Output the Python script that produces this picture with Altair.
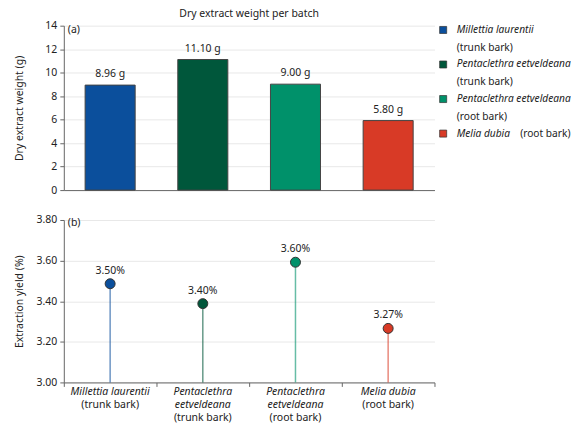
import altair as alt
import pandas as pd

species = [
    "Millettia laurentii (trunk bark)",
    "Pentaclethra eetveldeana (trunk bark)",
    "Pentaclethra eetveldeana (root bark)",
    "Melia dubia (root bark)",
]
colors = ["#0b4f9c", "#00573b", "#00916a", "#d83a26"]
weights = [8.94, 11.12, 9.02, 5.92]
weight_labels = ["8.96 g", "11.10 g", "9.00 g", "5.80 g"]
yields = [3.486, 3.388, 3.592, 3.266]
yield_labels = ["3.50%", "3.40%", "3.60%", "3.27%"]
axis_italic = ["Millettia laurentii", "Pentaclethra\neetveldeana", "Pentaclethra\neetveldeana", "Melia dubia"]
parts = ["(trunk bark)", "(trunk bark)", "(root bark)", "(root bark)"]
legend_italic = ["Millettia laurentii", "Pentaclethra eetveldeana", "Pentaclethra eetveldeana", "Melia dubia"]
legend_wrap = [True, True, True, False]
panel_tags = ["(a)", "(b)"]

FONT = "Noto Sans"
FS = 10.5
LFS = 10.2
TXT = "#222222"
W, H1, H2 = 372, 165, 163
LH = 13.3
Y0 = H2 + 10.5

df = pd.DataFrame({
    "species": species,
    "color": colors,
    "weight": weights,
    "wlabel": weight_labels,
    "yield": yields,
    "ylabel": yield_labels,
    "ax_it": axis_italic,
    "ax_lines": [a.count("\n") + 1 for a in axis_italic],
    "part": parts,
    "lg_it": legend_italic,
    "lg_wrap": legend_wrap,
    "base": [3.0] * 4,
})
tag_a_df = pd.DataFrame({"tag": [panel_tags[0]]})
tag_b_df = pd.DataFrame({"tag": [panel_tags[1]]})

color_scale = alt.Scale(domain=species, range=colors)
x_top = alt.X("species:N", sort=species, title=None,
              scale=alt.Scale(paddingInner=0.46, paddingOuter=0.23),
              axis=alt.Axis(labels=False, ticks=False, domainColor="#666666", grid=False,
                            minExtent=0, maxExtent=0))
y_top = alt.Y("weight:Q", title="Dry extract weight (g)",
              scale=alt.Scale(domain=[0, 14]),
              axis=alt.Axis(values=list(range(0, 15, 2)), labelOverlap=False, tickSize=4,
                            tickColor="#666666", domainColor="#666666", gridColor="#e8e8e8",
                            labelPadding=3, titleX=-44, titleY=H1 / 2, titleAlign="center",
                            titleBaseline="middle", titleFontWeight="normal"))

bars = alt.Chart(df).mark_bar(stroke="#444444", strokeWidth=1).encode(
    x=x_top, y=y_top,
    color=alt.Color("species:N", scale=color_scale, legend=None),
)
bar_text = alt.Chart(df).mark_text(baseline="bottom", dy=-6, font=FONT, fontSize=FS, color=TXT).encode(
    x=x_top, y=y_top, text="wlabel:N",
)
tag_a = alt.Chart(tag_a_df).mark_text(align="left", baseline="middle", font=FONT,
                                      fontSize=FS, color=TXT).encode(
    x=alt.value(4), y=alt.value(4), text="tag:N")
plot_a = alt.layer(bars, bar_text, tag_a)

# legend drawn from the same table
lg_y = alt.Y("species:N", sort=species, axis=None,
             scale=alt.Scale(range=[4.3, 108.3], padding=0))
lg_sq = alt.Chart(df).mark_square(size=50, stroke="#333333", strokeWidth=0.7, opacity=1).encode(
    x=alt.value(380.7), y=lg_y,
    color=alt.Color("species:N", scale=color_scale, legend=None),
)
lg_it = alt.Chart(df).mark_text(align="left", baseline="middle", fontStyle="italic", font=FONT,
                                fontSize=LFS, color=TXT).encode(
    x=alt.value(394.3), y=lg_y, text="lg_it:N")
lg_reg = alt.Chart(df).transform_filter("datum.lg_wrap").mark_text(
    align="left", baseline="middle", dy=18, font=FONT, fontSize=LFS, color=TXT).encode(
    x=alt.value(394.3), y=lg_y, text="part:N")
lg_tail = alt.Chart(df).transform_filter("!datum.lg_wrap").mark_text(
    align="left", baseline="middle", dx=63.7, font=FONT, fontSize=LFS, color=TXT).encode(
    x=alt.value(394.3), y=lg_y, text="part:N")
legend_layer = alt.layer(lg_sq, lg_it, lg_reg, lg_tail)

top = alt.layer(plot_a, legend_layer).resolve_scale(y="independent").properties(
    width=W, height=H1,
    title=alt.TitleParams("Dry extract weight per batch", fontSize=FS, font=FONT,
                          fontWeight="normal", color=TXT, offset=1))

x_bot = alt.X("species:N", sort=species, title=None,
              scale=alt.Scale(paddingInner=0, paddingOuter=0),
              axis=alt.Axis(labels=False, tickBand="extent", tickSize=4, tickColor="#666666",
                            domainColor="#666666", grid=False))
y_bot = alt.Y("yield:Q", title="Extraction yield (%)",
              scale=alt.Scale(domain=[3.0, 3.8]),
              axis=alt.Axis(values=[3.0, 3.2, 3.4, 3.6, 3.8], format=".2f", labelOverlap=False,
                            tickSize=4, tickColor="#666666", domainColor="#666666",
                            gridColor="#e8e8e8", labelPadding=3, titleX=-44, titleY=H2 / 2,
                            titleAlign="center", titleBaseline="middle", titleFontWeight="normal"))
stems = alt.Chart(df).mark_rule(strokeWidth=1.5, opacity=0.6).encode(
    x=x_bot, y=y_bot, y2="base:Q",
    color=alt.Color("species:N", scale=color_scale, legend=None),
)
dots = alt.Chart(df).mark_circle(size=100, stroke="#333333", strokeWidth=1, opacity=1).encode(
    x=x_bot, y=y_bot,
    color=alt.Color("species:N", scale=color_scale, legend=None),
)
dot_text = alt.Chart(df).mark_text(baseline="bottom", dy=-8, font=FONT, fontSize=FS, color=TXT).encode(
    x=x_bot, y=y_bot, text="ylabel:N")
ax_it = alt.Chart(df).mark_text(baseline="top", dy=-6, fontStyle="italic", font=FONT, fontSize=FS,
                                color=TXT, lineBreak="\n", lineHeight=LH).encode(
    x=x_bot, y=alt.value(Y0), text="ax_it:N")
ax_reg1 = alt.Chart(df).transform_filter("datum.ax_lines == 1").mark_text(
    baseline="top", dy=-6, font=FONT, fontSize=FS, color=TXT).encode(
    x=x_bot, y=alt.value(Y0 + LH), text="part:N")
ax_reg2 = alt.Chart(df).transform_filter("datum.ax_lines == 2").mark_text(
    baseline="top", dy=-6, font=FONT, fontSize=FS, color=TXT).encode(
    x=x_bot, y=alt.value(Y0 + 2 * LH), text="part:N")
tag_b = alt.Chart(tag_b_df).mark_text(align="left", baseline="middle", font=FONT,
                                      fontSize=FS, color=TXT).encode(
    x=alt.value(4), y=alt.value(3.3), text="tag:N")

bottom = alt.layer(stems, dots, dot_text, ax_it, ax_reg1, ax_reg2, tag_b).properties(
    width=W, height=H2)

chart = alt.vconcat(top, bottom, spacing=19).properties(
    padding={"left": 7, "top": 0, "right": 0, "bottom": 0}
).configure_view(stroke=None).configure_axis(
    labelFont=FONT, titleFont=FONT, labelFontSize=FS, titleFontSize=FS,
    labelColor=TXT, titleColor=TXT
)

chart.save("out.html", embed_options={"renderer": "svg", "actions": False})
